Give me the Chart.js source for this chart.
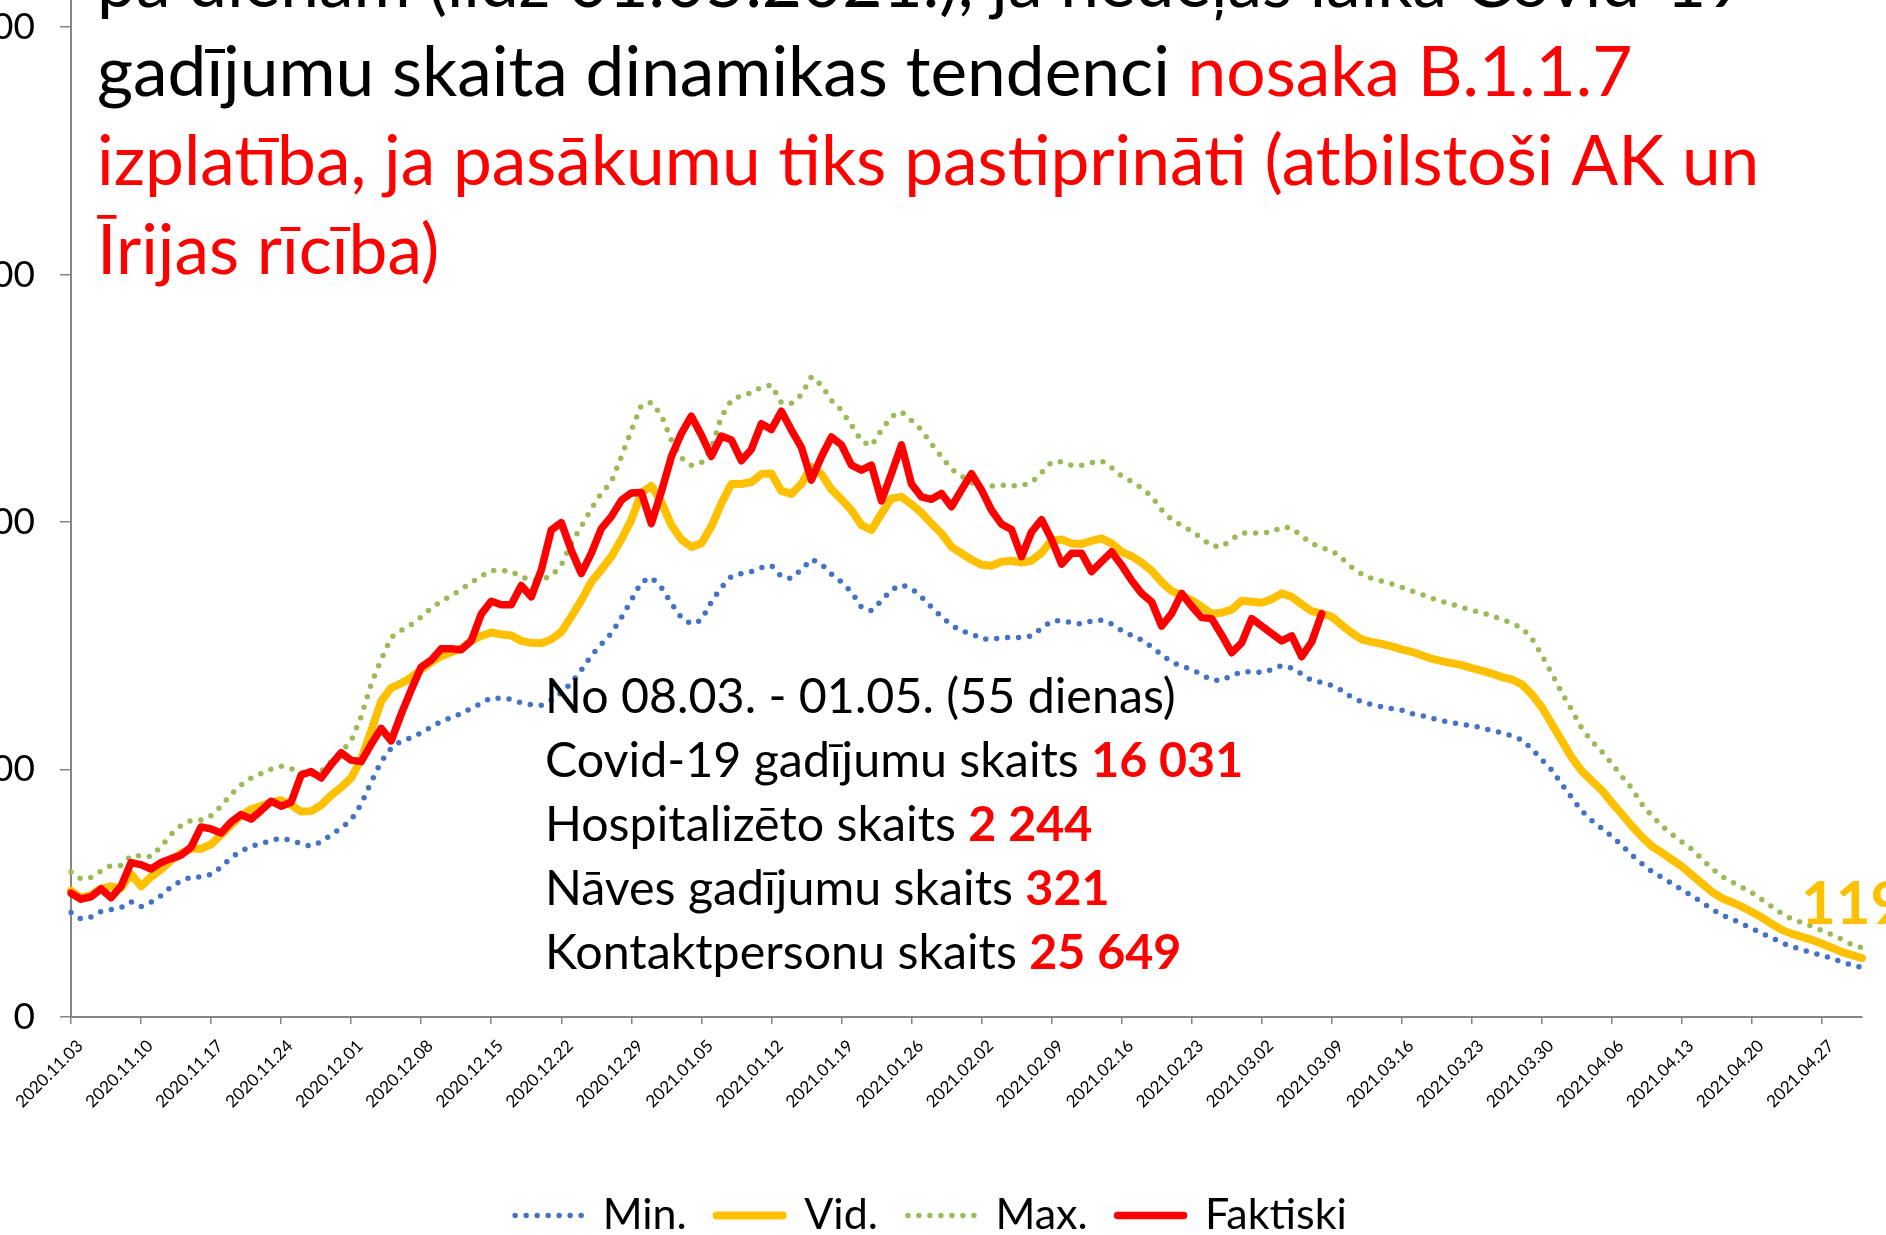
<!DOCTYPE html>
<html lang="lv">
<head>
<meta charset="utf-8">
<title>Covid-19 gadījumu prognoze</title>
<script src="https://cdn.jsdelivr.net/npm/chart.js@4.4.1/dist/chart.umd.min.js"></script>
<style>
  html, body { margin: 0; padding: 0; background: #fff; overflow: hidden; }
  canvas { display: block; }
</style>
</head>
<body>
<canvas id="prognoze" width="1886" height="1235"></canvas>
<script>
// dienas no 2020.11.03 līdz 2021.05.01
const startDate = [2020, 10, 3];

const weekLabels = [
  '2020.11.03', '2020.11.10', '2020.11.17', '2020.11.24', '2020.12.01', '2020.12.08',
  '2020.12.15', '2020.12.22', '2020.12.29', '2021.01.05', '2021.01.12', '2021.01.19',
  '2021.01.26', '2021.02.02', '2021.02.09', '2021.02.16', '2021.02.23', '2021.03.02',
  '2021.03.09', '2021.03.16', '2021.03.23', '2021.03.30', '2021.04.06', '2021.04.13',
  '2021.04.20', '2021.04.27'
];

const yTicks = [0, 500, 1000, 1500, 2000];

const minValues = [
  211, 198, 202, 213, 217, 221, 233, 223, 232, 245, 263, 275, 283, 283, 288, 303, 322, 335, 345, 350,
  357, 361, 357, 350, 345, 354, 368, 382, 398, 430, 475, 516, 543, 558, 564, 574, 586, 597, 605, 613,
  624, 634, 645, 644, 642, 635, 631, 630, 640, 655, 675, 701, 730, 753, 775, 807, 842, 879, 888, 868,
  836, 807, 794, 802, 839, 868, 890, 896, 900, 908, 912, 890, 886, 904, 925, 915, 895, 879, 859, 828,
  821, 841, 863, 873, 866, 849, 828, 809, 792, 780, 775, 764, 763, 767, 767, 767, 770, 785, 800, 801,
  797, 794, 800, 802, 794, 781, 771, 762, 748, 732, 717, 709, 702, 692, 681, 680, 690, 697, 698, 696,
  702, 710, 705, 693, 680, 676, 670, 660, 646, 637, 631, 627, 623, 620, 613, 609, 604, 599, 595, 591,
  589, 584, 579, 574, 568, 560, 542, 520, 499, 470, 443, 416, 397, 381, 365, 347, 327, 310, 294, 282,
  270, 257, 245, 232, 218, 206, 198, 188, 179, 169, 160, 150, 142, 136, 130, 125, 118, 111, 105, 100
];

const vidValues = [
  255, 241, 246, 260, 264, 260, 289, 264, 283, 298, 316, 331, 340, 340, 349, 368, 388, 407, 420, 426,
  434, 438, 428, 415, 416, 428, 448, 464, 483, 521, 578, 638, 665, 674, 686, 702, 717, 729, 737, 744,
  760, 770, 777, 773, 771, 760, 756, 755, 763, 778, 809, 842, 879, 904, 930, 965, 1004, 1059, 1073, 1041,
  994, 965, 950, 957, 991, 1038, 1077, 1077, 1081, 1097, 1098, 1063, 1057, 1077, 1112, 1097, 1066, 1046, 1024, 994,
  984, 1017, 1048, 1051, 1036, 1019, 997, 977, 950, 937, 924, 914, 912, 920, 922, 918, 922, 938, 963, 965,
  957, 956, 962, 967, 957, 940, 931, 918, 902, 879, 861, 852, 842, 829, 815, 817, 823, 841, 839, 837,
  844, 856, 849, 834, 820, 815, 809, 792, 776, 763, 758, 754, 749, 743, 738, 731, 724, 719, 715, 711,
  705, 700, 694, 687, 682, 672, 652, 626, 592, 558, 524, 497, 477, 458, 433, 410, 386, 364, 345, 332,
  318, 304, 287, 270, 253, 240, 232, 223, 212, 201, 188, 176, 168, 162, 156, 148, 140, 131, 125, 119
];

const maxValues = [
  293, 279, 282, 295, 306, 306, 326, 326, 324, 344, 369, 387, 397, 398, 407, 426, 450, 469, 483, 492,
  501, 507, 502, 495, 488, 496, 516, 536, 558, 607, 673, 722, 767, 781, 793, 808, 826, 840, 851, 864,
  878, 891, 902, 902, 901, 889, 884, 884, 891, 913, 957, 991, 1027, 1058, 1081, 1132, 1185, 1236, 1242, 1216,
  1166, 1130, 1115, 1120, 1149, 1213, 1246, 1256, 1261, 1273, 1277, 1241, 1240, 1257, 1294, 1277, 1246, 1226, 1196, 1164,
  1154, 1186, 1213, 1223, 1205, 1186, 1158, 1132, 1107, 1093, 1080, 1068, 1073, 1075, 1073, 1074, 1080, 1100, 1121, 1122,
  1115, 1115, 1120, 1124, 1110, 1093, 1082, 1069, 1052, 1025, 1005, 993, 982, 967, 952, 950, 965, 978, 978, 978,
  980, 990, 988, 972, 957, 948, 943, 927, 909, 895, 886, 881, 875, 868, 861, 854, 846, 840, 834, 828,
  822, 817, 811, 803, 796, 786, 765, 731, 694, 655, 620, 583, 557, 536, 512, 486, 462, 430, 406, 386,
  369, 354, 339, 319, 300, 284, 273, 262, 251, 237, 223, 209, 198, 191, 183, 175, 166, 157, 146, 140
];

const factValues = [
  250, 238, 243, 259, 241, 264, 312, 308, 299, 312, 320, 327, 343, 384, 380, 372, 394, 409, 400, 417,
  436, 426, 434, 489, 496, 483, 510, 534, 519, 516, 551, 583, 558, 612, 661, 707, 721, 744, 744, 742,
  760, 814, 840, 833, 833, 872, 849, 903, 984, 999, 943, 896, 937, 987, 1011, 1044, 1059, 1060, 997, 1061,
  1132, 1179, 1214, 1176, 1133, 1174, 1166, 1124, 1147, 1199, 1187, 1224, 1186, 1151, 1085, 1132, 1172, 1156, 1115, 1105,
  1115, 1043, 1098, 1156, 1077, 1051, 1046, 1058, 1031, 1065, 1098, 1065, 1024, 996, 985, 930, 980, 1005, 965, 915,
  937, 937, 900, 920, 940, 913, 882, 856, 839, 790, 815, 856, 830, 807, 805, 772, 736, 756, 805, 790,
  775, 760, 770, 728, 758, 815
];

const titleLines = [
  [['pa dienām (līdz 01.05.2021.), ja nedēļas laikā Covid-19', '#000000']],
  [['gadījumu skaita dinamikas tendenci ', '#000000'], ['nosaka B.1.1.7', '#ff0000']],
  [['izplatība, ja pasākumu tiks pastiprināti (atbilstoši AK un', '#ff0000']],
  [['Īrijas rīcība)', '#ff0000']]
];

const summaryLines = [
  [['No 08.03. - 01.05. (55 dienas)', '#000000']],
  [['Covid-19 gadījumu skaits ', '#000000'], ['16 031', '#ff0000', 'bold']],
  [['Hospitalizēto skaits ', '#000000'], ['2 244', '#ff0000', 'bold']],
  [['Nāves gadījumu skaits ', '#000000'], ['321', '#ff0000', 'bold']],
  [['Kontaktpersonu skaits ', '#000000'], ['25 649', '#ff0000', 'bold']]
];

const FONT = 'Lato, "Open Sans", "DejaVu Sans", sans-serif';
const AXIS_GREY = '#868686';

const days = vidValues.map((_, i) => {
  const d = new Date(Date.UTC(startDate[0], startDate[1], startDate[2] + i));
  const mm = String(d.getUTCMonth() + 1).padStart(2, '0');
  const dd = String(d.getUTCDate()).padStart(2, '0');
  return d.getUTCFullYear() + '.' + mm + '.' + dd;
});

function fitSize(ctx, text, width, weight) {
  ctx.font = weight + ' 100px ' + FONT;
  return 100 * width / ctx.measureText(text).width;
}

function drawRuns(ctx, runs, x, y, size) {
  runs.forEach(([text, color, weight]) => {
    ctx.font = (weight || 'normal') + ' ' + size + 'px ' + FONT;
    ctx.fillStyle = color;
    ctx.fillText(text, x, y);
    x += ctx.measureText(text).width;
  });
}

// virsraksts, kopsavilkums un pēdējā Vid. vērtība
const textPlugin = {
  id: 'texts',
  afterDatasetsDraw(chart) {
    const ctx = chart.ctx;
    ctx.save();
    ctx.textAlign = 'left';
    ctx.textBaseline = 'alphabetic';

    const titleSize = fitSize(ctx, 'gadījumu skaita dinamikas tendenci nosaka B.1.1.7', 1536, 'normal');
    titleLines.forEach((runs, i) => drawRuns(ctx, runs, 97, 7 + 89 * i, titleSize));

    const boxSize = fitSize(ctx, summaryLines[0][0][0], 631, 'normal');
    summaryLines.forEach((runs, i) => drawRuns(ctx, runs, 545, 713 + 64 * i, boxSize));

    const last = vidValues.length - 1;
    const x = chart.scales.x.getPixelForValue(last);
    const y = chart.scales.y.getPixelForValue(vidValues[last]);
    ctx.font = 'bold 60px ' + FONT;
    ctx.fillStyle = '#FFC000';
    ctx.fillText(String(vidValues[last]), x - 61, y - 34);
    ctx.restore();
  }
};

// leģenda apakšā ar fiksētu augstumu
const LEGEND_H = 71;
const legendHeight = {
  id: 'legendHeight',
  beforeInit(chart) {
    const fit = chart.legend.fit;
    chart.legend.fit = function () {
      fit.call(this);
      this.height = LEGEND_H;
    };
  }
};

const line = (label, data, color, width, dotted, order) => ({
  label: label,
  data: data,
  borderColor: color,
  backgroundColor: color,
  borderWidth: width,
  borderDash: dotted ? [0, 11] : [],
  borderCapStyle: 'round',
  borderJoinStyle: 'round',
  pointRadius: 0,
  tension: 0,
  order: order
});

new Chart(document.getElementById('prognoze'), {
  type: 'line',
  data: {
    labels: days,
    datasets: [
      line('Min.', minValues, '#4472C4', 5.5, true, 3),
      line('Vid.', vidValues, '#FFC000', 8, false, 2),
      line('Max.', maxValues, '#9BBB59', 5.5, true, 1),
      line('Faktiski', factValues, '#FF0000', 7.5, false, 0)
    ]
  },
  options: {
    responsive: false,
    animation: false,
    devicePixelRatio: 1,
    events: [],
    layout: { padding: { left: 0, top: 0, right: 24, bottom: 0 } },
    scales: {
      x: {
        offset: false,
        border: { color: AXIS_GREY, width: 2 },
        grid: { drawOnChartArea: false, color: AXIS_GREY, lineWidth: 1.5, tickLength: 7 },
        ticks: {
          autoSkip: false,
          minRotation: 45,
          maxRotation: 45,
          padding: 12,
          labelOffset: 9,
          color: '#000',
          font: { family: FONT, size: 17 },
          callback: (value, index) => weekLabels.includes(days[index]) ? days[index] : null
        },
        afterFit(scale) {
          scale.height = 218 - LEGEND_H;
          scale.paddingLeft = 0;
          scale.paddingRight = 0;
        }
      },
      y: {
        min: 0,
        max: 2055,
        border: { color: AXIS_GREY, width: 2 },
        grid: { drawOnChartArea: false, color: AXIS_GREY, lineWidth: 1.5, tickLength: 11 },
        ticks: {
          padding: 25,
          color: '#000',
          font: { family: FONT, size: 37 }
        },
        afterBuildTicks(scale) {
          scale.ticks = yTicks.map(v => ({ value: v }));
        },
        afterFit(scale) {
          scale.width = 71;
          scale.paddingTop = 0;
          scale.paddingBottom = 0;
        }
      }
    },
    plugins: {
      tooltip: { enabled: false },
      title: { display: false },
      legend: {
        position: 'bottom',
        labels: {
          boxWidth: 66,
          boxHeight: 0,
          padding: 30,
          color: '#000',
          font: { family: FONT, size: 43 },
          sort: (a, b) => a.datasetIndex - b.datasetIndex
        }
      }
    }
  },
  plugins: [textPlugin, legendHeight]
});
</script>
</body>
</html>
